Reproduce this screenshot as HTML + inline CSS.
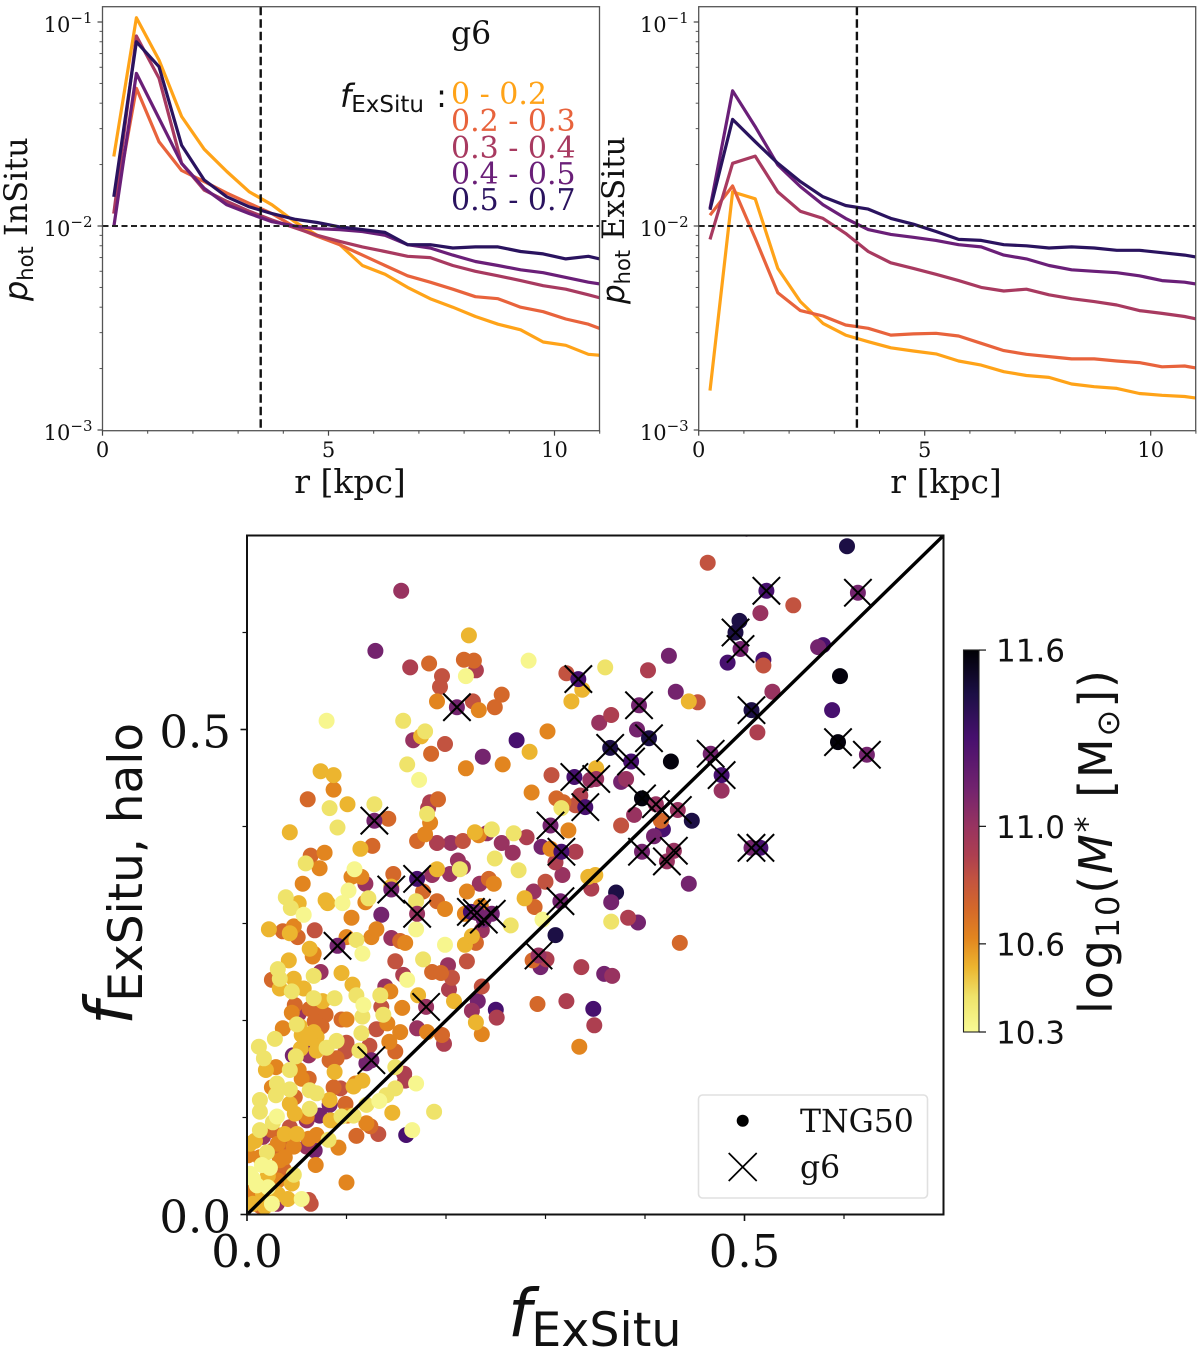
<!DOCTYPE html>
<html lang="en">
<head>
<meta charset="utf-8">
<title>Hot orbit fraction profiles and ex-situ fractions</title>
<style>
html,body{margin:0;padding:0;background:#fff;}
svg{display:block;}
text{fill:#111;}
.serif{font-family:"DejaVu Serif","Liberation Serif",serif;}
.sans{font-family:"DejaVu Sans","Liberation Sans",sans-serif;}
</style>
</head>
<body>
<svg id="figure" xmlns="http://www.w3.org/2000/svg" width="1200" height="1355" viewBox="0 0 1200 1355">
<defs>
<clipPath id="clip-left"><rect x="102.5" y="6.7" width="497" height="424"/></clipPath>
<clipPath id="clip-right"><rect x="698.7" y="6.7" width="497" height="424"/></clipPath>
<clipPath id="clip-scatter"><rect x="247" y="535.5" width="696.5" height="679"/></clipPath>
<linearGradient id="cbar-gradient" x1="0" y1="1" x2="0" y2="0"></linearGradient>
</defs>
<rect width="1200" height="1355" fill="#fff"/>

<g id="panel-left"></g>
<g id="panel-right"></g>
<g id="panel-scatter"></g>
<g id="colorbar"></g>

<text class="serif" x="350" y="493" font-size="33" text-anchor="middle">r [kpc]</text>
<text class="serif" x="946" y="493" font-size="33" text-anchor="middle">r [kpc]</text>
<text class="serif" transform="translate(27,301) rotate(-90)" font-size="32"><tspan class="sans" font-style="italic">p</tspan><tspan class="sans" font-size="21" dy="6">hot</tspan><tspan dy="-6"> InSitu</tspan></text>
<text class="serif" transform="translate(624,304) rotate(-90)" font-size="31"><tspan class="sans" font-style="italic">p</tspan><tspan class="sans" font-size="21" dy="6">hot</tspan><tspan dy="-6"> ExSitu</tspan></text>

<text class="serif" x="451" y="44" font-size="31.5">g6</text>
<text class="sans" x="340" y="107" font-size="32"><tspan font-style="italic">f</tspan><tspan font-size="23" dy="5">ExSitu</tspan><tspan dy="-5" dx="2"> :</tspan></text>
<text class="serif" x="451" y="104" font-size="30" style="fill:#ffa318">0 - 0.2</text>
<text class="serif" x="451" y="131" font-size="30" style="fill:#e8633c">0.2 - 0.3</text>
<text class="serif" x="451" y="158" font-size="30" style="fill:#a83a60">0.3 - 0.4</text>
<text class="serif" x="451" y="184" font-size="30" style="fill:#6a1f78">0.4 - 0.5</text>
<text class="serif" x="451" y="210" font-size="30" style="fill:#2a135f">0.5 - 0.7</text>

<text class="sans" x="508" y="1336" font-size="66"><tspan font-style="italic">f</tspan><tspan font-size="47.5" dy="10">ExSitu</tspan></text>
<text class="sans" transform="translate(132,1025) rotate(-90)" font-size="66"><tspan font-style="italic">f</tspan><tspan font-size="47" dy="10">ExSitu, halo</tspan></text>
<text class="sans" transform="translate(1112,1014) rotate(-90)" font-size="46" textLength="344" lengthAdjust="spacing">log<tspan font-size="32" dy="7">10</tspan><tspan dy="-7">(</tspan><tspan font-style="italic">M</tspan><tspan font-size="32" dy="-14">*</tspan><tspan dy="14"> [M</tspan><tspan font-size="32" dy="7">⊙</tspan><tspan dy="-7">])</tspan></text>

<g>
<rect x="698.5" y="1095" width="229" height="103" rx="4" ry="4" fill="#fff" stroke="#e0e0e0" stroke-width="1.6"/>
<circle cx="742.7" cy="1120.7" r="6" fill="#000"/>
<path d="M728.7 1153 L756.7 1181 M756.7 1153 L728.7 1181" stroke="#000" stroke-width="1.7" fill="none"/>
<text class="serif" x="800" y="1132" font-size="31.5">TNG50</text>
<text class="serif" x="800" y="1178" font-size="31.5">g6</text>
</g>
</svg>

<script>
const radiusKpc = [0.25,0.75,1.25,1.75,2.25,2.75,3.25,3.75,4.25,4.75,5.25,5.75,6.25,6.75,7.25,7.75,8.25,8.75,9.25,9.75,10.25,10.75,11.25];

const inSituBin1 = [.0219,.105,.0651,.0344,.0238,.0185,.0147,.0127,.0105,.0090,.0081,.0064,.0058,.0050,.0044,.0040,.0036,.0033,.0031,.0027,.0026,.00235,.0023];
const inSituBin2 = [.0115,.0473,.0259,.0187,.0165,.0145,.0129,.0115,.0099,.0089,.0081,.0072,.0064,.0057,.0053,.0049,.0045,.0044,.0040,.0038,.0035,.0033,.0030];
const inSituBin3 = [.0115,.0854,.053,.0203,.0150,.0132,.0118,.0107,.0098,.0090,.0084,.0079,.0075,.0071,.0070,.0064,.0060,.0057,.0054,.0051,.0049,.0046,.0043];
const inSituBin4 = [.0099,.056,.0337,.0203,.0153,.0127,.0115,.0105,.0100,.0097,.0096,.0094,.0090,.0081,.0078,.0072,.0067,.0064,.0061,.0059,.0056,.0053,.0051];
const inSituBin5 = [.0139,.080,.0604,.0249,.0168,.0139,.0124,.0115,.0108,.0104,.0099,.0096,.0093,.0081,.0081,.0078,.0079,.0079,.0075,.0073,.0069,.0071,.0067];

const exSituBin1 = [.00156,.0147,.0136,.0062,.00426,.00333,.00292,.00271,.00253,.00244,.00236,.00218,.00208,.00193,.00185,.00181,.00168,.00163,.0016,.00151,.00148,.00146,.00141];
const exSituBin2 = [.0113,.0157,.0087,.00471,.00385,.00362,.00327,.00315,.00292,.00296,.00298,.00289,.00266,.00245,.00235,.00229,.00223,.00223,.00218,.00214,.00204,.00206,.00197];
const exSituBin3 = [.0086,.0203,.0220,.0147,.0118,.0109,.0092,.0075,.0066,.0062,.0058,.0054,.0050,.0048,.0049,.0046,.0044,.00426,.0041,.00385,.00373,.0036,.00342];
const exSituBin4 = [.0122,.046,.0307,.0199,.0156,.0127,.0109,.0096,.0091,.0088,.0085,.0081,.0079,.0072,.0069,.0064,.0061,.0060,.0059,.0057,.0054,.0053,.0051];
const exSituBin5 = [.0120,.0333,.0259,.0203,.0165,.0139,.0126,.0121,.0109,.0102,.0094,.0086,.0085,.0081,.0080,.0078,.0079,.0078,.0076,.0076,.0074,.0072,.0069];

const binNames = ['0-0.2','0.2-0.3','0.3-0.4','0.4-0.5','0.5-0.7'];
const binColors = ['#ffa318','#e8633c','#a83a60','#6a1f78','#2a135f'];

const rMajorTicks = [0,5,10];
const rMinorTicks = [1,2,3,4,6,7,8,9,11];
const rTickLabels = ['0','5','10'];
const pDecades = [-3,-2,-1];
const pDecadeLabels = ['\u22123','\u22122','\u22121'];
const pMinorMultipliers = [2,3,4,5,6,7,8,9];
const radiusReference = 3.5;
const pReference = 0.01;

const fMajorTicks = [0,0.5];
const fMinorTicks = [0.1,0.2,0.3,0.4,0.6];
const fTickLabels = ['0.0','0.5'];

const tngX = [
.155,.129,.164,.183,.196,.194,.191,.218,.228,.230,
.220,.223,.283,.321,.337,.326,.227,.233,.249,.256,
.080,.157,.167,.175,.179,.199,.185,.271,.302,.284,
.237,.220,.257,.161,.173,.074,.087,.087,.061,.083,
.101,.091,.043,.128,.142,.192,.184,.182,.181,.184,
.179,.171,.191,.205,.217,.229,.233,.241,.246,.268,
.281,.256,.267,.249,.212,.217,.214,.273,.114,.126,
.078,.064,.059,.073,.108,.105,.115,.147,.191,.204,
.056,.243,.234,.286,.306,.345,.311,.318,.330,.335,
.316,.323,.296,.305,.310,.330,.317,.300,.343,.603,
.502,.463,.549,.516,.495,.483,.519,.519,.579,.574,
.596,.424,.360,.403,.528,.431,.453,.444,.588,.366,
.354,.392,.513,.426,.477,.351,.376,.381,.447,.389,
.376,.416,.418,.409,.350,.444,.346,.371,.366,.366,
.383,.393,.435,.359,.367,.348,.349,.145,.119,.186,
.248,.221,.177,.191,.170,.199,.170,.135,.119,.122,
.105,.096,.102,.079,.081,.039,.052,.044,.057,.022,
.036,.047,.043,.051,.068,.100,.110,.116,.125,.130,
.145,.154,.159,.199,.219,.226,.230,.219,.235,.236,
.265,.279,.288,.289,.297,.310,.287,.295,.301,.336,
.221,.202,.177,.149,.157,.161,.186,.195,.206,.203,
.236,.208,.232,.226,.250,.251,.230,.236,.292,.321,
.334,.172,.156,.139,.144,.134,.135,.137,.110,.106,
.095,.088,.117,.116,.141,.130,.154,.171,.181,.196,
.198,.115,.143,.149,.123,.120,.113,.100,.099,.090,
.080,.067,.070,.062,.049,.046,.054,.055,.067,.053,
.050,.036,.045,.048,.052,.028,.012,.017,.029,.019,
.043,.052,.062,.055,.030,.025,.043,.029,.048,.063,
.070,.088,.083,.090,.087,.094,.109,.107,.116,.149,
.158,.159,.170,.149,.140,.133,.120,.146,.188,.160,
.166,.132,.124,.120,.110,.092,.083,.099,.083,.101,
.107,.095,.084,.073,.060,.063,.048,.030,.026,.013,
.013,.013,.038,.062,.070,.068,.082,.031,.026,.020,
.003,.001,.015,.023,.006,.010,.047,.045,.069,.100,
.055,.062,.064,.025,.041,.031,.030,.013,.001,.006,
.018,.003,.043,.060,.050,.043,.037,.047,.025,.016,
.008,.013,.033,.021,.037,.031,.021,.006,.016,.003,
.038,.060,
.042,.031,.033,.025,.047,.067,.074,.033,.045,.057,
.067,.076,.063,.066,.067,.063,.072,.079,.075,.068,
.095,.100,.070,.063];

const tngY = [
.643,.581,.564,.568,.555,.544,.529,.572,.571,.561,
.555,.597,.571,.558,.541,.529,.529,.520,.523,.536,
.509,.509,.489,.493,.498,.485,.475,.489,.498,.477,
.472,.460,.464,.464,.448,.457,.453,.438,.428,.419,
.423,.399,.394,.423,.408,.428,.425,.419,.413,.404,
.392,.385,.383,.383,.385,.394,.391,.393,.397,.393,
.389,.383,.373,.367,.365,.358,.356,.355,.377,.380,
.373,.370,.362,.357,.356,.348,.348,.351,.356,.351,
.341,.346,.341,.435,.453,.448,.429,.425,.422,.432,
.419,.396,.379,.377,.363,.374,.350,.343,.348,.689,
.707,.672,.628,.620,.612,.569,.572,.566,.587,.585,
.555,.576,.564,.561,.539,.539,.528,.529,.520,.515,
.507,.500,.497,.467,.437,.460,.446,.449,.406,.412,
.401,.406,.397,.390,.350,.341,.336,.332,.322,.302,
.306,.301,.280,.248,.246,.212,.195,.338,.341,.350,
.341,.333,.333,.323,.323,.315,.294,.309,.322,.326,
.306,.321,.334,.324,.321,.327,.321,.316,.309,.294,
.292,.297,.290,.286,.293,.286,.283,.269,.286,.294,
.285,.282,.280,.278,.278,.287,.280,.310,.318,.293,
.298,.326,.333,.317,.304,.288,.262,.255,.263,.255,
.261,.257,.263,.261,.247,.242,.250,.249,.244,.232,
.235,.220,.220,.210,.211,.203,.198,.186,.217,.220,
.173,.226,.213,.235,.230,.226,.214,.206,.226,.237,
.249,.223,.216,.204,.197,.191,.188,.192,.188,.185,
.176,.187,.178,.168,.174,.156,.169,.177,.168,.179,
.172,.173,.169,.164,.163,.164,.171,.185,.188,.194,
.196,.192,.208,.216,.207,.181,.173,.161,.152,.149,
.149,.149,.140,.140,.135,.131,.129,.123,.121,.128,
.125,.147,.159,.161,.131,.130,.135,.132,.138,.152,
.145,.138,.135,.130,.123,.117,.113,.105,.106,.082,
.087,.083,.091,.094,.081,.069,.118,.114,.113,.102,
.102,.101,.097,.102,.097,.109,.104,.101,.095,.118,
.106,.087,.083,.078,.082,.066,.077,.073,.066,.064,
.073,.061,.051,.048,.037,.030,.041,.032,.051,.033,
.016,.015,.011,.011,.016,.021,.011,.009,.018,.011,
.008,.042,.114,.101,.083,.090,.075,.070,.087,.080,
.076,.059,.056,.040,.046,.035,.028,.023,.022,.028,
.059,.070,
.262,.253,.243,.242,.243,.246,.250,.233,.230,.233,
.223,.220,.274,.266,.269,.212,.207,.206,.194,.199,
.201,.201,.183,.182];

const tngMass = [
11,11.12,10.9,10.72,10.82,10.82,10.62,10.72,10.72,10.9,
10.32,10.52,10.32,10.82,10.52,10.52,10.82,10.62,10.72,10.72,
10.32,10.42,11,10.52,10.42,10.82,10.72,11.3,10.62,10.52,
11.12,10.62,10.62,10.42,10.32,10.52,10.52,10.62,10.72,10.42,
10.52,10.42,10.52,10.42,10.72,10.72,10.9,10.9,10.42,10.62,
10.62,10.72,10.9,11,10.82,10.52,10.62,11,10.42,10.42,
10.9,11,11,10.42,11,11,10.42,10.42,10.52,10.72,
10.62,10.72,10.42,10.62,10.32,10.62,10.62,10.72,10.52,11,
10.62,10.72,11,10.62,10.82,11,10.72,10.72,10.82,10.9,
10.42,10.62,11.12,10.62,10.9,10.9,11,10.82,10.52,11.45,
11.12,10.82,10.82,11,11.45,11.3,11.3,10.82,11.3,11.12,
11.58,11.12,10.42,10.9,11,11.12,10.82,10.52,11.3,10.9,
11,11.12,10.9,11.58,11,10.52,11.12,11,11.45,11,
10.82,10.72,11.3,11.12,10.52,11.12,10.9,11.45,11.12,10.42,
10.9,11.12,10.72,11.12,11,11.3,10.9,10.52,11,11,
10.62,10.62,10.72,10.72,10.42,10.62,10.32,11.12,10.62,10.42,
10.62,10.32,10.32,10.52,10.52,10.42,10.52,10.42,10.32,10.52,
10.72,10.62,10.52,10.72,10.82,10.62,10.42,10.32,10.62,10.62,
11,10.72,10.62,10.32,10.52,10.52,10.72,10.62,10.62,11,
10.42,10.52,11,10.72,10.32,11.45,10.72,11.12,10.9,10.9,
10.82,11,10.42,10.82,10.9,10.32,10.72,10.72,10.82,10.9,
10.82,10.52,11.12,11,11.3,10.9,10.52,10.62,10.72,10.9,
10.62,10.52,10.62,11,10.62,10.42,10.82,10.42,10.42,10.52,
10.52,10.42,10.32,10.42,10.62,10.82,10.62,11,10.62,10.72,
10.9,10.42,10.62,10.72,10.82,11.12,10.42,10.82,10.82,10.42,
10.42,11.12,10.52,11,10.42,11.12,10.52,10.52,10.52,10.52,
10.42,10.62,10.62,10.72,11,10.42,10.42,10.42,10.62,10.52,
10.42,10.62,10.72,10.62,10.42,10.62,10.42,10.42,10.72,10.42,
10.42,10.52,10.72,10.72,10.72,10.82,10.62,10.52,10.52,10.42,
10.9,10.9,10.32,10.42,10.42,10.32,10.42,10.52,10.42,11.3,
10.32,10.82,10.72,10.62,10.72,10.62,10.52,10.72,11.12,10.62,
10.42,10.42,10.52,11.12,11,10.42,10.52,10.32,10.42,10.42,
10.42,10.42,10.52,10.62,10.62,11.12,10.42,10.62,10.72,10.42,
10.52,10.62,10.32,10.32,10.32,10.32,10.42,10.52,10.62,10.62,
10.32,10.82,10.82,10.32,10.52,10.52,11,10.72,10.62,10.52,
10.52,10.32,10.52,10.62,10.52,10.82,10.72,10.62,10.72,11,
10.52,10.62,10.62,10.52,10.72,10.62,10.32,10.72,10.52,10.62,
10.62,11,
10.52,10.42,10.42,10.72,10.52,10.42,11,10.52,10.42,10.52,
10.42,10.52,10.52,10.62,10.62,10.72,10.72,10.72,10.72,10.72,
10.72,10.62,10.52,10.52];

const g6X = [.333,.211,.128,.171,.329,.340,.305,.316,.522,.614,.491,.496,.394,.507,.594,.623,.404,.365,.466,.386,.477,.351,.397,.411,.433,.397,.429,.422,.507,.516,.145,.171,.091,.225,.231,.238,.246,.315,.293,.180,.125];
const g6Y = [.552,.523,.406,.346,.451,.420,.401,.374,.643,.641,.600,.583,.525,.520,.487,.474,.491,.481,.475,.467,.453,.449,.429,.423,.417,.374,.375,.364,.378,.378,.335,.310,.277,.312,.311,.304,.310,.323,.267,.214,.159];
const g6Mass = [11.3,11.12,11.12,11.3,11.3,11.3,11.12,11.3,11.3,11.12,11.45,11.12,11.12,11.45,11.58,11.12,11.45,11.45,11.12,11.3,11.3,11,11.58,11,11,11.12,11,11,11.12,11.3,11.12,11,11.12,11.3,11.12,11.12,11.12,11.12,11,11,11.12];

const diagonalEnds = [0,0.7];

const cbarMassStops = [10.3,10.42,10.52,10.62,10.72,10.82,10.9,11,11.12,11.3,11.45,11.6];
const cbarColorStops = ['#f8fa95','#efe36a','#ecb52f','#e2851f','#d4682a','#c25340','#ad3f50','#983360','#74246e','#47106e','#1c0f45','#000004'];
const cbarTicks = [10.3,10.6,11,11.6];
const cbarTickLabels = ['10.3','10.6','11.0','11.6'];

const NS = 'http://www.w3.org/2000/svg';
function make(parent, tag, props) {
  const el = document.createElementNS(NS, tag);
  Object.keys(props).forEach(function (k) { el.setAttribute(k, props[k]); });
  parent.appendChild(el);
  return el;
}
function pY(p) { return 226 - 204 * (Math.log10(p) + 2); }
const panelTop = 6.7, panelBottom = 430.7, panelWidth = 497;

function drawPanel(root, x0, clipId, seriesList, prefix) {
  function rX(r) { return x0 + 45.2 * r; }
  const seriesGroup = make(root, 'g', { 'clip-path': 'url(#' + clipId + ')' });
  
  
  seriesList.forEach(function (values, s) {
    const pts = values.map(function (v, i) { return rX(radiusKpc[i]).toFixed(1) + ',' + pY(v).toFixed(1); }).join(' ');
    const line = make(seriesGroup, 'polyline', { points: pts, fill: 'none', stroke: binColors[s], 'stroke-width': 3.2, 'stroke-linejoin': 'round' });
    
    
  });
  const hRef = make(seriesGroup, 'line', { x1: x0, x2: x0 + panelWidth, y1: pY(pReference), y2: pY(pReference), stroke: '#222', 'stroke-width': 2, 'stroke-dasharray': '6 3.5' });
  
  
  const vRef = make(seriesGroup, 'line', { x1: rX(radiusReference), x2: rX(radiusReference), y1: panelTop, y2: panelBottom, stroke: '#111', 'stroke-width': 2.4, 'stroke-dasharray': '8.5 4' });
  
  
  const frame = make(root, 'rect', { x: x0, y: panelTop, width: panelWidth, height: panelBottom - panelTop, fill: 'none', stroke: '#555', 'stroke-width': 1.3 });
  
  
  rMajorTicks.forEach(function (t, i) {
    const tick = make(root, 'line', { x1: rX(t), x2: rX(t), y1: panelBottom, y2: panelBottom + 5, stroke: '#444', 'stroke-width': 1.2 });
    
    
    const label = make(root, 'text', { x: rX(t), y: 457, 'text-anchor': 'middle', 'font-size': 21, class: 'serif' });
    label.textContent = rTickLabels[i];
    
    
  });
  rMinorTicks.forEach(function (t) {
    const tick = make(root, 'line', { x1: rX(t), x2: rX(t), y1: panelBottom, y2: panelBottom + 3, stroke: '#444', 'stroke-width': 1 });
    
    
  });
  pDecades.forEach(function (d, i) {
    const y = pY(Math.pow(10, d));
    const tick = make(root, 'line', { x1: x0 - 5, x2: x0, y1: y, y2: y, stroke: '#444', 'stroke-width': 1.2 });
    
    
    const label = make(root, 'text', { x: x0 - 10, y: y + 10, 'text-anchor': 'end', 'font-size': 21, class: 'serif' });
    
    
    const base = make(label, 'tspan', {});
    base.textContent = '10';
    const sup = make(label, 'tspan', { 'font-size': 15, dy: -9 });
    sup.textContent = pDecadeLabels[i];
    pMinorMultipliers.forEach(function (m) {
      const v = m * Math.pow(10, d);
      if (pY(v) < panelTop) return;
      const minor = make(root, 'line', { x1: x0 - 3, x2: x0, y1: pY(v), y2: pY(v), stroke: '#444', 'stroke-width': 0.9 });
      
      
    });
  });
}

drawPanel(document.getElementById('panel-left'), 102.5, 'clip-left', [inSituBin1, inSituBin2, inSituBin3, inSituBin4, inSituBin5], 'insitu');
drawPanel(document.getElementById('panel-right'), 698.7, 'clip-right', [exSituBin1, exSituBin2, exSituBin3, exSituBin4, exSituBin5], 'exsitu');

function hexToRgb(h) { return [parseInt(h.substr(1, 2), 16), parseInt(h.substr(3, 2), 16), parseInt(h.substr(5, 2), 16)]; }
function massColor(m) {
  const n = cbarMassStops.length;
  if (m <= cbarMassStops[0]) return cbarColorStops[0];
  if (m >= cbarMassStops[n - 1]) return cbarColorStops[n - 1];
  let i = 0;
  while (m > cbarMassStops[i + 1]) i++;
  const t = (m - cbarMassStops[i]) / (cbarMassStops[i + 1] - cbarMassStops[i]);
  const a = hexToRgb(cbarColorStops[i]), b = hexToRgb(cbarColorStops[i + 1]);
  return 'rgb(' + [0, 1, 2].map(function (k) { return Math.round(a[k] + (b[k] - a[k]) * t); }).join(',') + ')';
}
function fX(v) { return 247 + 995 * v; }
function fY(v) { return 1214.5 - 970 * v; }

const scatterRoot = document.getElementById('panel-scatter');
const scatterClip = make(scatterRoot, 'g', { 'clip-path': 'url(#clip-scatter)' });



const drawOrder = tngMass.map(function (m, i) { return i; }).sort(function (a, b) { return tngMass[b] - tngMass[a] || a - b; });
drawOrder.forEach(function (i) {
  const dot = make(scatterClip, 'circle', { cx: fX(tngX[i]).toFixed(1), cy: fY(tngY[i]).toFixed(1), r: 8, fill: massColor(tngMass[i]) });
  
  
});
g6X.forEach(function (x, i) {
  const dot = make(scatterClip, 'circle', { cx: fX(x).toFixed(1), cy: fY(g6Y[i]).toFixed(1), r: 8, fill: massColor(g6Mass[i]) });
  
  
});
const diagonal = make(scatterClip, 'line', { x1: fX(diagonalEnds[0]), y1: fY(diagonalEnds[0]), x2: fX(diagonalEnds[1]), y2: fY(diagonalEnds[1]), stroke: '#000', 'stroke-width': 3.4 });


g6X.forEach(function (x, i) {
  const cx = fX(x), cy = fY(g6Y[i]), h = 13.7;
  const cross = make(scatterClip, 'path', { d: 'M' + (cx - h) + ' ' + (cy - h) + 'L' + (cx + h) + ' ' + (cy + h) + 'M' + (cx + h) + ' ' + (cy - h) + 'L' + (cx - h) + ' ' + (cy + h), stroke: '#000', 'stroke-width': 2, fill: 'none' });
  
  
});
const scatterFrame = make(scatterRoot, 'rect', { x: 247, y: 535.5, width: 696.5, height: 679, fill: 'none', stroke: '#111', 'stroke-width': 2 });


fMajorTicks.forEach(function (t, i) {
  const xt = make(scatterRoot, 'line', { x1: fX(t), x2: fX(t), y1: 1214.5, y2: 1221, stroke: '#111', 'stroke-width': 1.6 });
  
  
  const yt = make(scatterRoot, 'line', { x1: 240.5, x2: 247, y1: fY(t), y2: fY(t), stroke: '#111', 'stroke-width': 1.6 });
  
  
  const xl = make(scatterRoot, 'text', { x: fX(t), y: 1267, 'text-anchor': 'middle', 'font-size': 45, class: 'serif' });
  xl.textContent = fTickLabels[i];
  
  
  const yl = make(scatterRoot, 'text', { x: 231, y: fY(t) + 18, 'text-anchor': 'end', 'font-size': 45, class: 'serif' });
  yl.textContent = fTickLabels[i];
  
  
});
fMinorTicks.forEach(function (t) {
  const xt = make(scatterRoot, 'line', { x1: fX(t), x2: fX(t), y1: 1214.5, y2: 1219, stroke: '#111', 'stroke-width': 1.2 });
  
  
  const yt = make(scatterRoot, 'line', { x1: 242.5, x2: 247, y1: fY(t), y2: fY(t), stroke: '#111', 'stroke-width': 1.2 });
  
  
});

const gradient = document.getElementById('cbar-gradient');
cbarMassStops.forEach(function (m, i) {
  make(gradient, 'stop', { offset: (m - 10.3) / 1.3, 'stop-color': cbarColorStops[i] });
});
const cbarRoot = document.getElementById('colorbar');
function cbarY(m) { return 1032 - (m - 10.3) * 293.8; }
const cbarRect = make(cbarRoot, 'rect', { x: 963.5, y: 650, width: 15.5, height: 382, fill: 'url(#cbar-gradient)', stroke: '#222', 'stroke-width': 1.1 });


cbarTicks.forEach(function (m, i) {
  const tick = make(cbarRoot, 'line', { x1: 979, x2: 986, y1: cbarY(m), y2: cbarY(m), stroke: '#111', 'stroke-width': 1.2 });
  
  
  const label = make(cbarRoot, 'text', { x: 996, y: cbarY(m) + 11.5, 'font-size': 31, class: 'sans' });
  label.textContent = cbarTickLabels[i];
  
  
});
</script>
</body>
</html>
